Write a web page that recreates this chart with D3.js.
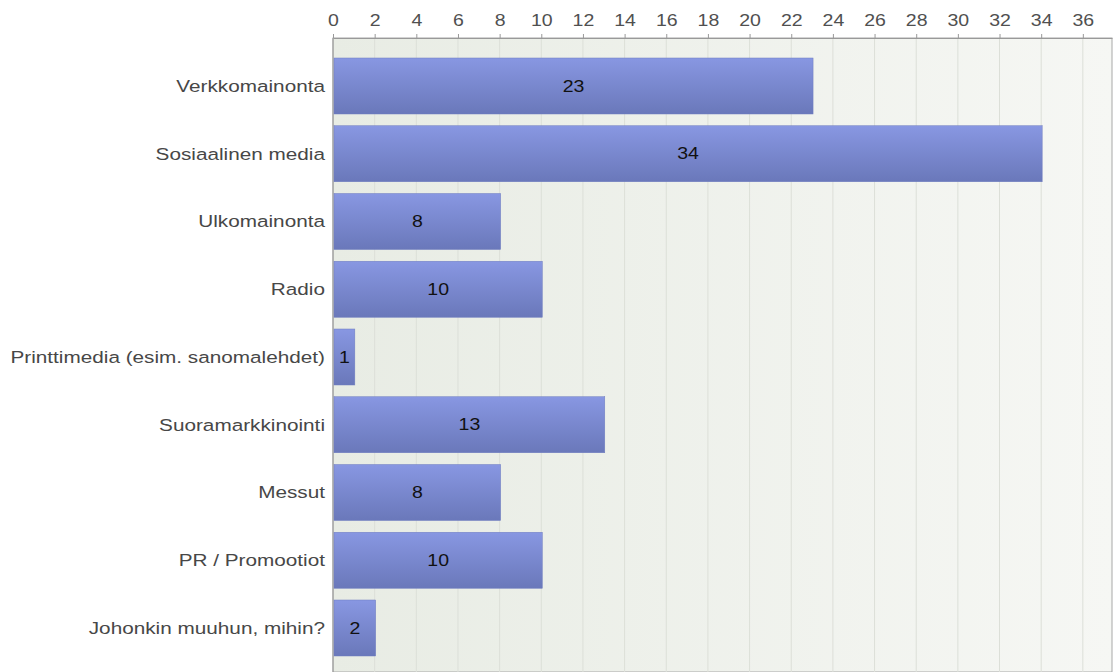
<!DOCTYPE html>
<html>
<head>
<meta charset="utf-8">
<script src="https://cdn.jsdelivr.net/npm/d3@7"></script>
<style>
  body { margin: 0; background: #fff; }
  svg { display: block; }
  text { font-family: "Liberation Sans", Arial, sans-serif; }
</style>
</head>
<body>
<script>
const categories = ["Verkkomainonta", "Sosiaalinen media", "Ulkomainonta", "Radio",
  "Printtimedia (esim. sanomalehdet)", "Suoramarkkinointi", "Messut", "PR / Promootiot",
  "Johonkin muuhun, mihin?"];
const values = [23, 34, 8, 10, 1, 13, 8, 10, 2];
const tickValues = d3.range(0, 37, 2);

const width = 1115, height = 672;
const plotLeft = 333, plotTop = 38, plotRight = 1112;
// the source picture is stretched sideways, so text is too
const stretch = 1.22;

const svg = d3.select("body").append("svg")
    .attr("width", width)
    .attr("height", height);

const defs = svg.append("defs");
const bg = defs.append("linearGradient").attr("id", "bg")
    .attr("x1", 0).attr("x2", 1).attr("y1", 0).attr("y2", 0);
bg.append("stop").attr("offset", 0).attr("stop-color", "#e8ece4");
bg.append("stop").attr("offset", 1).attr("stop-color", "#f6f7f4");

const barGrad = defs.append("linearGradient").attr("id", "bar")
    .attr("x1", 0).attr("x2", 0).attr("y1", 0).attr("y2", 1);
barGrad.append("stop").attr("offset", 0).attr("stop-color", "#8897e2");
barGrad.append("stop").attr("offset", 1).attr("stop-color", "#6a78ba");

const x = d3.scaleLinear().domain([0, 37.4]).range([plotLeft, plotRight]);
const y = d3.scaleBand().domain(categories)
    .range([52.125, 52.125 + 9 * 67.75])
    .paddingInner(0.1734)
    .paddingOuter(0.0867);

// plot background
svg.append("rect")
    .attr("x", plotLeft).attr("y", plotTop)
    .attr("width", plotRight - plotLeft).attr("height", height - plotTop)
    .attr("fill", "url(#bg)")
    .attr("stroke", "#a8a8a8");

// gridlines
svg.append("g").selectAll("line")
    .data(tickValues.filter(d => d > 0))
    .join("line")
    .attr("x1", d => x(d)).attr("x2", d => x(d))
    .attr("y1", plotTop).attr("y2", height)
    .attr("stroke", "#dcdfd8");

// top axis
const axis = svg.append("g")
    .attr("transform", "translate(0," + plotTop + ")")
    .call(d3.axisTop(x).tickValues(tickValues).tickSize(4).tickPadding(8).tickSizeOuter(0));
axis.select(".domain").attr("stroke", "#999");
axis.selectAll(".tick line").attr("stroke", "#999");
axis.selectAll(".tick text")
    .style("font-family", "'Liberation Sans', Arial, sans-serif")
    .style("font-size", "16px")
    .attr("transform", "scale(" + stretch + ",1)")
    .attr("fill", "#505050");

// left axis line
svg.append("line")
    .attr("x1", plotLeft).attr("x2", plotLeft)
    .attr("y1", plotTop).attr("y2", height)
    .attr("stroke", "#999");

// bars
svg.append("g").selectAll("rect")
    .data(values)
    .join("rect")
    .attr("x", x(0) + 1)
    .attr("y", (d, i) => y(categories[i]))
    .attr("width", d => x(d) - x(0))
    .attr("height", y.bandwidth())
    .attr("fill", "url(#bar)")
    .attr("stroke", "#6f7cc0")
    .attr("stroke-width", 0.5);

// value labels
svg.append("g").selectAll("text")
    .data(values)
    .join("text")
    .attr("transform", (d, i) => "translate(" + ((x(0) + x(d)) / 2 + 1) + ","
        + (y(categories[i]) + y.bandwidth() / 2) + ") scale(" + stretch + ",1)")
    .attr("dy", "0.35em")
    .attr("text-anchor", "middle")
    .style("font-size", "16px")
    .attr("fill", "#111")
    .text(d => d);

// category labels
svg.append("g").selectAll("text")
    .data(categories)
    .join("text")
    .attr("transform", d => "translate(" + (plotLeft - 8) + ","
        + (y(d) + y.bandwidth() / 2) + ") scale(" + stretch + ",1)")
    .attr("dy", "0.35em")
    .attr("text-anchor", "end")
    .style("font-size", "17px")
    .attr("fill", "#474747")
    .text(d => d);
</script>
</body>
</html>
